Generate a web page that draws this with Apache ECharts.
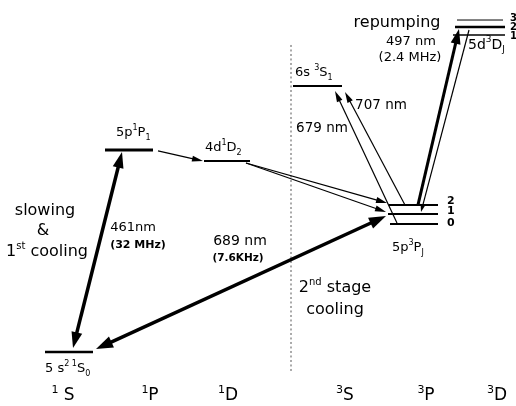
<!DOCTYPE html>
<html><head><meta charset="utf-8">
<script src="https://cdn.jsdelivr.net/npm/echarts@6/dist/echarts.min.js"></script>
<style>html,body{margin:0;padding:0;background:#fff}#c{width:516px;height:406px}</style>
</head><body><div id="c"></div>
<script>
// ---------------- data (diagram units: x = layout position, E = energy, arb. ~10^3 cm^-1) ----------------
const columnLabels = ['{csup|1} S', '{csup|1}P', '{csup|1}D', '{csup|3}S', '{csup|3}P', '{csup|3}D'];
const columnX = [63, 150, 228, 345, 426, 497];
const columnE = -4.73;

const levelNames  = ['5s2 1S0', '5p 1P1', '4d 1D2', '6s 3S1', '5p 3P0', '5p 3P1', '5p 3P2', '5d 3D1', '5d 3D2', '5d 3D3'];
const levelEnergy = [0, 21.69, 20.51, 28.57, 13.75, 14.82, 15.79, 34.04, 34.90, 35.65];
const levelXStart = [45, 105, 204, 293, 390, 388, 389, 453, 455, 457];
const levelXEnd   = [93, 153, 250, 342, 438, 438, 438, 505, 505, 503];

const levelLabels = ['5 s{sup|2 1}S{sub|0}', '5p{sup|1}P{sub|1}', '4d{sup|1}D{sub|2}', '6s {sup|3}S{sub|1}', '5p{sup|3}P{sub|J}', '5d{sup|3}D{sub|J}'];
const levelLabelX = [45, 116, 205, 295, 392, 468];
const levelLabelE = [-1.83, 23.52, 21.91, 29.96, 11.17, 32.97];

const jLabels = ['2', '1', '0', '3', '2', '1'];
const jLabelX = [447, 447, 447, 510, 510, 510];
const jLabelE = [16.22, 15.14, 13.85, 35.87, 34.90, 33.93];

const transitionNames = ['461 nm', '689 nm', '1P1→1D2', '1D2→3P2', '1D2→3P1', '679 nm', '707 nm', '497 nm', '3D1→3P1'];
const transFromX = [73, 96, 158, 246, 246, 397, 405, 418, 469];
const transFromE = [0.43, 0.32, 21.59, 20.30, 20.30, 13.85, 15.79, 15.79, 34.58];
const transToX   = [122, 386, 203, 387, 386, 335, 345, 459, 421];
const transToE   = [21.48, 14.60, 20.51, 16.00, 15.03, 28.03, 27.92, 34.69, 15.03];

const noteTexts = ['slowing', '&', '1{s|st} cooling', '461nm', '(32 MHz)', '689 nm', '(7.6KHz)', '2{s|nd} stage', 'cooling', '679 nm', '707 nm', 'repumping', '497 nm', '(2.4 MHz)'];
const noteX = [45, 43, 47, 133, 138, 240, 238, 335, 335, 322, 381, 397, 411, 410];
const noteE = [15.14, 12.99, 10.74, 13.32, 11.49, 11.92, 10.09, 6.87, 4.51, 23.95, 26.42, 35.33, 33.29, 31.57];

const guideX = 291, guideTopE = 32.97, guideBottomE = -2.15;

// ---------------- styles (kept apart from data) ----------------
const FONT = 'DejaVu Sans';
const levelWidth = [2.5, 3, 1.8, 2, 2, 2, 2, 1.5, 2.5, 1];
const arrowWidth = [3.5, 3.5, 1.2, 1.2, 1.2, 1.2, 1.2, 3, 1.2];
const arrowHeadLen = [16, 17, 11, 11, 11, 11, 11, 15, 8];
const arrowHeadW = [11, 12, 6, 6, 6, 6, 6, 10, 5];
const arrowBoth = [true, true, false, false, false, false, false, false, false];
const noteSize = [16, 16, 16, 13, 11, 14, 10.5, 16, 16, 13.5, 13.5, 16, 13, 13];
const noteWeight = ['normal', 'normal', 'normal', 'normal', 'bold', 'normal', 'bold', 'normal', 'normal', 'normal', 'normal', 'normal', 'normal', 'normal'];
const levelLabelSize = [13, 13, 13, 13, 13, 14];

function makeRich(fs) {
  const s = Math.round(fs * 0.65);
  return {
    sup: { fontSize: s, fontFamily: FONT, verticalAlign: 'top', lineHeight: s + 1, fill: '#000' },
    sub: { fontSize: s, fontFamily: FONT, verticalAlign: 'bottom', lineHeight: s + 1, fill: '#000' },
    s: { fontSize: s, fontFamily: FONT, verticalAlign: 'top', lineHeight: s + 1, fill: '#000' },
    csup: { fontSize: 11, fontFamily: FONT, verticalAlign: 'top', lineHeight: 12, fill: '#000' }
  };
}

// build series data
const levelData = levelEnergy.map((e, i) => [levelXStart[i], levelXEnd[i], e, i]);
const transData = transitionNames.map((n, i) => [transFromX[i], transFromE[i], transToX[i], transToE[i], i]);

const texts = [];
noteTexts.forEach((t, i) => texts.push({ value: [noteX[i], noteE[i]], t, align: 'center', fs: noteSize[i], fw: noteWeight[i] }));
levelLabels.forEach((t, i) => texts.push({ value: [levelLabelX[i], levelLabelE[i]], t, align: 'left', fs: levelLabelSize[i], fw: 'normal' }));
jLabels.forEach((t, i) => texts.push({ value: [jLabelX[i], jLabelE[i]], t, align: 'left', fs: i < 3 ? 11 : 10, fw: 'bold' }));
columnLabels.forEach((t, i) => texts.push({ value: [columnX[i], columnE], t, align: 'center', fs: 17, fw: 'normal' }));

const chart = echarts.init(document.getElementById('c'), null, { renderer: 'canvas' });
chart.setOption({
  animation: false,
  backgroundColor: '#fff',
  grid: { left: 0, right: 0, top: 0, bottom: 0 },
  xAxis: { type: 'value', min: 0, max: 516, show: false },
  yAxis: { type: 'value', min: -5.8, max: 37.8, show: false },
  series: [
    {
      type: 'custom', name: 'guide', clip: false,
      data: [[guideX, guideTopE, guideBottomE]],
      renderItem: (p, api) => {
        const a = api.coord([api.value(0), api.value(1)]);
        const b = api.coord([api.value(0), api.value(2)]);
        return { type: 'line', shape: { x1: a[0], y1: a[1], x2: b[0], y2: b[1] },
          style: { stroke: '#555', lineWidth: 1, lineDash: [2, 2.5] } };
      }
    },
    {
      type: 'custom', name: 'levels', clip: false,
      data: levelData,
      renderItem: (p, api) => {
        const i = api.value(3);
        const a = api.coord([api.value(0), api.value(2)]);
        const b = api.coord([api.value(1), api.value(2)]);
        return { type: 'line', shape: { x1: a[0], y1: a[1], x2: b[0], y2: b[1] },
          style: { stroke: '#000', lineWidth: levelWidth[i] } };
      }
    },
    {
      type: 'custom', name: 'transitions', clip: false,
      data: transData,
      renderItem: (p, api) => {
        const i = api.value(4);
        const p0 = api.coord([api.value(0), api.value(1)]);
        const p1 = api.coord([api.value(2), api.value(3)]);
        const dx = p1[0] - p0[0], dy = p1[1] - p0[1];
        const len = Math.hypot(dx, dy);
        const ux = dx / len, uy = dy / len, nx = -uy, ny = ux;
        const L = arrowHeadLen[i], W = arrowHeadW[i] / 2;
        const head = (tip, dir) => {
          const bx = tip[0] - dir * ux * L, by = tip[1] - dir * uy * L;
          return { type: 'polygon', shape: { points: [tip, [bx + nx * W, by + ny * W], [bx - nx * W, by - ny * W]] },
            style: { fill: '#000' } };
        };
        const e = [p1[0] - ux * L * 0.7, p1[1] - uy * L * 0.7];
        const s = arrowBoth[i] ? [p0[0] + ux * L * 0.7, p0[1] + uy * L * 0.7] : p0;
        const children = [
          { type: 'line', shape: { x1: s[0], y1: s[1], x2: e[0], y2: e[1] }, style: { stroke: '#000', lineWidth: arrowWidth[i] } },
          head(p1, 1)
        ];
        if (arrowBoth[i]) children.push(head(p0, -1));
        return { type: 'group', children };
      }
    },
    {
      type: 'custom', name: 'texts', clip: false,
      data: texts,
      renderItem: (p, api) => {
        const d = texts[p.dataIndex];
        const c = api.coord([api.value(0), api.value(1)]);
        return { type: 'text', x: c[0], y: c[1],
          style: { text: d.t, rich: makeRich(d.fs), fontSize: d.fs, fontFamily: FONT, fontWeight: d.fw,
            lineHeight: Math.round(d.fs * 1.35), fill: '#000',
            textAlign: d.align, textVerticalAlign: 'middle', align: d.align, verticalAlign: 'middle' } };
      }
    }
  ]
});
</script></body></html>
